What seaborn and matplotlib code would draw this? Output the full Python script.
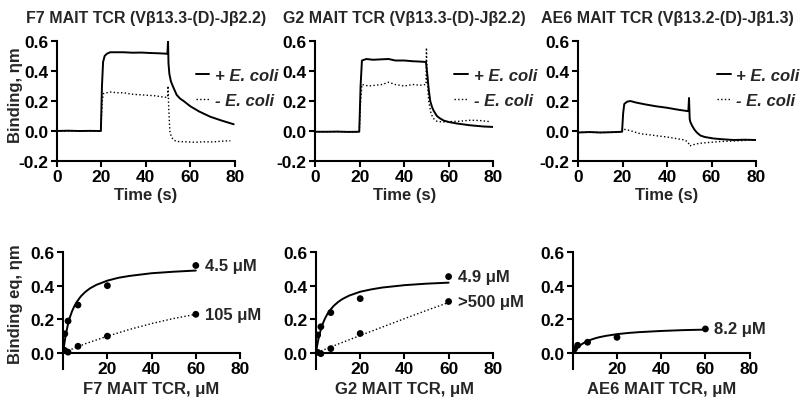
import numpy as np
import pandas as pd
import matplotlib
matplotlib.use("Agg")
import matplotlib.pyplot as plt
from matplotlib.lines import Line2D
import seaborn as sns

# ---- sensorgram traces (time s, response) ----
f7_pos_t = [0, 5, 10, 15, 19.8, 20.3, 20.8, 21.5, 22.5, 24, 27, 30, 34, 38, 42, 46, 49.7,
            50.0, 50.2, 50.6, 51.3, 52.4, 53.9, 55.5, 57, 60, 64, 69, 74, 79.5]
f7_pos_v = [0.0, 0.002, 0.0, 0.001, 0.0, 0.3, 0.46, 0.50, 0.515, 0.525, 0.525, 0.525, 0.522,
            0.523, 0.52, 0.518, 0.515, 0.60, 0.45, 0.38, 0.33, 0.29, 0.24, 0.215, 0.20, 0.165,
            0.13, 0.095, 0.07, 0.045]
f7_neg_t = [0, 5, 10, 15, 19.8, 20.4, 21, 24, 27, 30, 34, 39, 44, 48.5, 49.8, 50.0, 50.3,
            50.8, 51.5, 52.5, 54, 58, 62, 66, 70, 74, 78]
f7_neg_v = [0.0, 0.0, 0.002, 0.0, 0.0, 0.2, 0.25, 0.26, 0.255, 0.255, 0.245, 0.24, 0.235,
            0.225, 0.225, 0.30, 0.15, 0.0, -0.04, -0.06, -0.07, -0.072, -0.075, -0.072, -0.073,
            -0.068, -0.065]

g2_pos_t = [0, 5, 10, 15, 19.8, 20.4, 21, 23, 26, 30, 33, 36, 40, 44, 47, 49.8, 50.5, 51,
            51.7, 52.5, 53.2, 54.7, 56, 57.7, 60, 63.7, 69.7, 75.7, 80]
g2_pos_v = [-0.005, -0.005, -0.004, -0.006, -0.005, 0.3, 0.47, 0.48, 0.475, 0.478, 0.48,
            0.47, 0.47, 0.465, 0.463, 0.46, 0.36, 0.28, 0.2, 0.16, 0.136, 0.10, 0.085, 0.07,
            0.06, 0.05, 0.038, 0.03, 0.027]
g2_neg_t = [0, 5, 10, 15, 19.8, 20.4, 21, 24, 27, 30, 33, 36, 40, 44, 47, 49.8, 50.0, 50.3,
            51, 52, 53, 54.7, 57, 60.7, 65, 69.7, 74, 78.7]
g2_neg_v = [-0.005, -0.005, -0.004, -0.006, -0.005, 0.2, 0.31, 0.30, 0.305, 0.31, 0.325,
            0.31, 0.30, 0.31, 0.305, 0.31, 0.555, 0.35, 0.20, 0.12, 0.085, 0.065, 0.06, 0.063,
            0.065, 0.072, 0.07, 0.062]

ae6_pos_t = [0, 5, 10, 15, 19.8, 20.3, 20.8, 22, 23.5, 26, 30, 35, 40, 45, 49.6, 49.9, 50.2,
             50.5, 51.3, 52.3, 53.4, 55, 57, 61, 65, 70, 75, 80]
ae6_pos_v = [-0.01, -0.007, -0.01, -0.008, -0.005, 0.12, 0.18, 0.195, 0.2, 0.19, 0.178,
             0.165, 0.155, 0.142, 0.132, 0.22, 0.08, 0.06, 0.035, 0.01, -0.01, -0.03, -0.04,
             -0.05, -0.055, -0.06, -0.058, -0.06]
ae6_neg_t = [0, 5, 10, 15, 19.8, 20.4, 22, 24, 28, 32, 36, 40, 44, 48, 49.5, 50.2, 51, 53.4,
             56, 60, 64, 68, 72, 76, 80]
ae6_neg_v = [-0.01, -0.007, -0.01, -0.008, -0.005, 0.012, 0.008, 0.0, -0.018, -0.025,
             -0.033, -0.04, -0.05, -0.06, -0.075, -0.1, -0.095, -0.085, -0.08, -0.075, -0.07,
             -0.068, -0.065, -0.062, -0.058]

# ---- equilibrium binding (concentration uM, response) ----
conc = [0.74, 2.2, 6.7, 20, 60]
f7_pos_pts = [0.114, 0.19, 0.285, 0.40, 0.52]
f7_neg_pts = [0.015, 0.005, 0.04, 0.10, 0.23]
g2_pos_pts = [0.107, 0.156, 0.24, 0.323, 0.454]
g2_neg_pts = [0.004, -0.004, 0.026, 0.116, 0.306]
ae6_pos_pts = [0.024, 0.046, 0.064, 0.093, 0.143]

# fitted curves
fit_x = [0, 0.5, 1, 2, 3, 4, 5, 6, 8, 10, 12, 15, 20, 25, 30, 40, 50, 60]
f7_pos_fit = [0, 0.053, 0.096, 0.162, 0.211, 0.248, 0.277, 0.301, 0.337, 0.363, 0.383,
              0.405, 0.43, 0.447, 0.458, 0.474, 0.483, 0.49]
g2_pos_fit = [0, 0.042, 0.077, 0.131, 0.172, 0.203, 0.228, 0.249, 0.28, 0.303, 0.321,
              0.341, 0.364, 0.378, 0.389, 0.403, 0.412, 0.418]
ae6_pos_fit = [0, 0.009, 0.017, 0.031, 0.042, 0.052, 0.06, 0.067, 0.078, 0.087, 0.094,
               0.102, 0.112, 0.119, 0.124, 0.131, 0.136, 0.139]
lin_x = [0.7, 2, 5, 10, 20, 30, 40, 50, 60]
f7_neg_fit = [0.004, 0.012, 0.029, 0.055, 0.10, 0.14, 0.175, 0.205, 0.23]
g2_neg_fit = [0.004, 0.011, 0.027, 0.053, 0.104, 0.154, 0.204, 0.253, 0.30]

titles = ["F7 MAIT TCR (V\u03b213.3-(D)-J\u03b22.2)",
          "G2 MAIT TCR (V\u03b213.3-(D)-J\u03b22.2)",
          "AE6 MAIT TCR (V\u03b213.2-(D)-J\u03b21.3)"]
bottom_xlabels = ["F7 MAIT TCR, \u03bcM", "G2 MAIT TCR, \u03bcM", "AE6 MAIT TCR, \u03bcM"]
legend_labels = ["+ E. coli", "- E. coli"]

sns.set_style("ticks")
plt.rcParams["font.family"] = ["Liberation Sans", "DejaVu Sans"]
plt.rcParams["font.weight"] = "bold"
plt.rcParams["axes.labelweight"] = "bold"

FS = 11.5
TICK_FS = 12.5
fig = plt.figure(figsize=(8, 4.02), dpi=100)

top_lefts = [0.071, 0.394, 0.7225]
bot_lefts = [0.079, 0.395, 0.716]
top_axes = [fig.add_axes([l, 0.597, 0.2225, 0.2985]) for l in top_lefts]
bot_axes = [fig.add_axes([l, 0.0796, 0.221, 0.291]) for l in bot_lefts]

traces = [(f7_pos_t, f7_pos_v, f7_neg_t, f7_neg_v),
          (g2_pos_t, g2_pos_v, g2_neg_t, g2_neg_v),
          (ae6_pos_t, ae6_pos_v, ae6_neg_t, ae6_neg_v)]


def style_axis(ax):
    sns.despine(ax=ax)
    for s in ["left", "bottom"]:
        ax.spines[s].set_linewidth(1.5)
        ax.spines[s].set_color("black")
    ax.tick_params(width=1.5, length=4, labelsize=TICK_FS, colors="black", direction="out",
                   pad=2)
    for lab in ax.get_xticklabels() + ax.get_yticklabels():
        lab.set_fontweight("bold")


for i, ax in enumerate(top_axes):
    pt, pv, nt, nv = traces[i]
    sns.lineplot(x=pt, y=pv, ax=ax, color="black", lw=1.4, sort=False, estimator=None)
    sns.lineplot(x=nt, y=nv, ax=ax, color="black", lw=1.0, ls=":", sort=False, estimator=None)
    ax.set_xlim(0, 80)
    ax.set_ylim(-0.2, 0.6)
    ax.set_xticks([0, 20, 40, 60, 80])
    ax.set_yticks([-0.2, 0.0, 0.2, 0.4, 0.6])
    ax.set_yticklabels(["-0.2", "0.0", "0.2", "0.4", "0.6"])
    ax.set_xlabel("Time (s)", fontsize=FS + 0.5, fontweight="bold", labelpad=2)
    ax.set_title(titles[i], fontsize=FS, fontweight="bold", pad=14)
    style_axis(ax)
    handles = [Line2D([], [], color="black", lw=1.4),
               Line2D([], [], color="black", lw=1.0, ls=":")]
    ax.legend(handles, legend_labels, frameon=False, loc="center left",
              bbox_to_anchor=(0.745, 0.61), handlelength=0.8, handletextpad=0.35,
              labelspacing=0.6, borderaxespad=0,
              prop={"size": FS + 0.5, "weight": "bold", "style": "italic"})

top_axes[0].set_ylabel("Binding, \u03b7m", fontsize=FS + 0.5, fontweight="bold")
top_axes[0].yaxis.set_label_coords(-0.19, 0.56)

bot_data = [(f7_pos_pts, f7_pos_fit, f7_neg_pts, f7_neg_fit, "4.5 \u03bcM", "105 \u03bcM"),
            (g2_pos_pts, g2_pos_fit, g2_neg_pts, g2_neg_fit, "4.9 \u03bcM", ">500 \u03bcM"),
            (ae6_pos_pts, ae6_pos_fit, None, None, "8.2 \u03bcM", None)]

for i, ax in enumerate(bot_axes):
    pos_pts, pos_fit, neg_pts, neg_fit, lab1, lab2 = bot_data[i]
    sns.lineplot(x=fit_x, y=pos_fit, ax=ax, color="black", lw=1.4, sort=False, estimator=None)
    sns.scatterplot(x=conc, y=pos_pts, ax=ax, color="black", s=24, edgecolor="none")
    ax.annotate(lab1, (conc[-1], pos_pts[-1]), xytext=(6.5, 0), textcoords="offset points",
                va="center", ha="left", fontsize=FS + 0.5, fontweight="bold",
                annotation_clip=False)
    if neg_pts is not None:
        sns.lineplot(x=lin_x, y=neg_fit, ax=ax, color="black", lw=1.0, ls=":", sort=False,
                     estimator=None)
        sns.scatterplot(x=conc, y=neg_pts, ax=ax, color="black", s=24, edgecolor="none")
        ax.annotate(lab2, (conc[-1], neg_pts[-1]), xytext=(6.5, 0), textcoords="offset points",
                    va="center", ha="left", fontsize=FS + 0.5, fontweight="bold",
                    annotation_clip=False)
    ax.set_xlim(0, 80)
    ax.set_ylim(-0.095, 0.6)
    ax.set_xticks([20, 40, 60, 80])
    ax.set_yticks([0.0, 0.2, 0.4, 0.6])
    ax.set_yticklabels(["0.0", "0.2", "0.4", "0.6"])
    ax.spines["bottom"].set_position(("data", 0))
    ax.set_xlabel(bottom_xlabels[i], fontsize=FS + 0.5, fontweight="bold", labelpad=3)
    style_axis(ax)

bot_axes[0].set_ylabel("Binding eq, \u03b7m", fontsize=FS + 0.5, fontweight="bold")
bot_axes[0].yaxis.set_label_coords(-0.23, 0.56)

fig.savefig("out.png", dpi=100)
